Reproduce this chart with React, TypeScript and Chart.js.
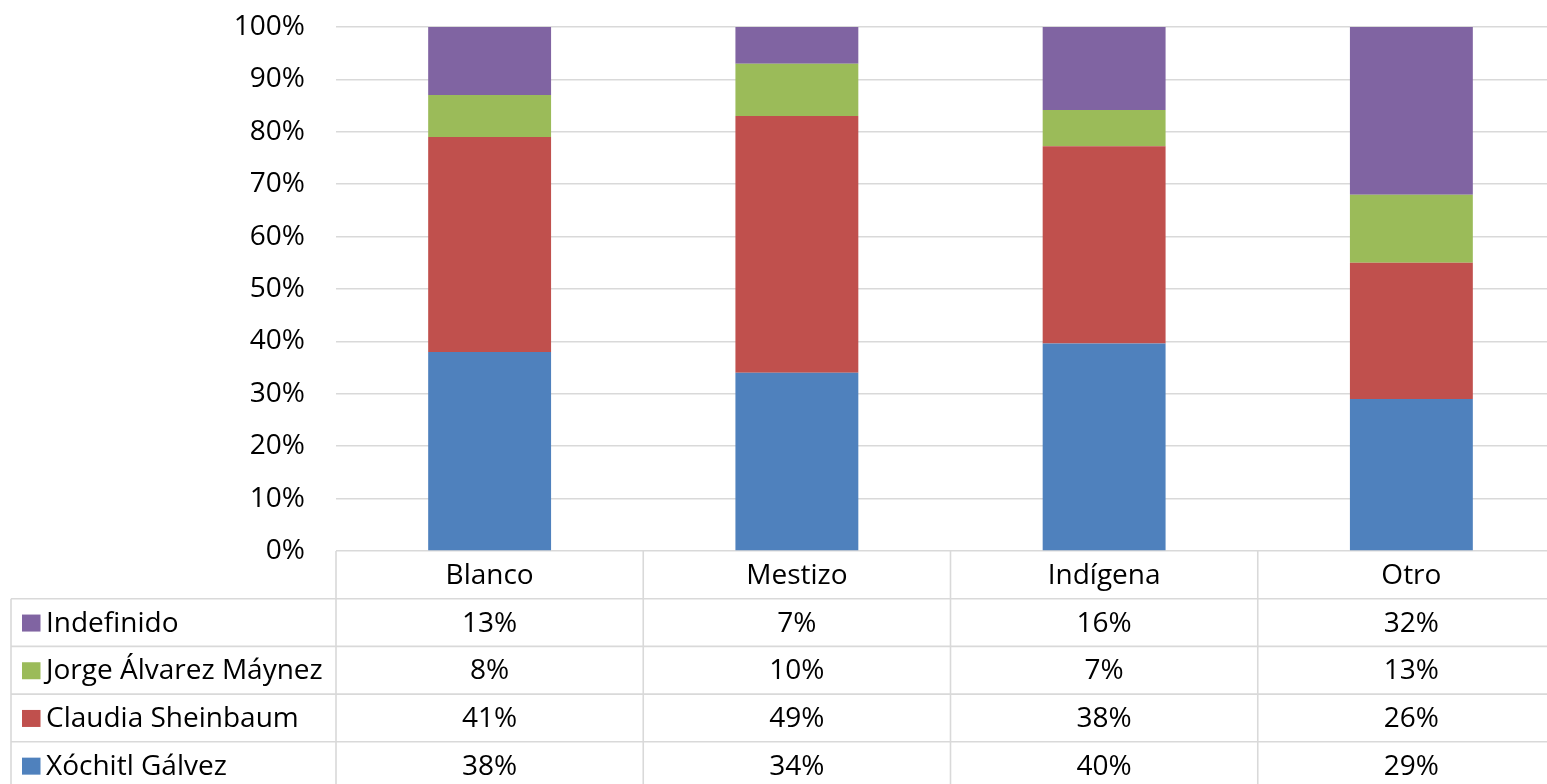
import React, { useEffect, useRef } from "react";
import { Chart, registerables } from "chart.js";

Chart.register(...registerables);

const categories = ["Blanco", "Mestizo", "Indígena", "Otro"];
const seriesNames = ["Xóchitl Gálvez", "Claudia Sheinbaum", "Jorge Álvarez Máynez", "Indefinido"];
const xochitl = [38, 34, 40, 29];
const claudia = [41, 49, 38, 26];
const jorge = [8, 10, 7, 13];
const indefinido = [13, 7, 16, 32];
const seriesColors = ["#4F81BD", "#C0504D", "#9BBB59", "#8064A2"];
const yTickStep = 10;

const FONT_FAMILY = "'Open Sans', sans-serif";
const FONT_SIZE = 28;

const seriesValues = [xochitl, claudia, jorge, indefinido];
const totals = categories.map((_, i) => seriesValues.reduce((s, arr) => s + arr[i], 0));

const tablePlugin = {
  id: "dataTable",
  afterDraw(chart: any) {
    const { ctx, chartArea, scales } = chart;
    const x = scales.x;
    const top = chartArea.bottom;
    const rowH = 47.7;
    const colW = x.getPixelForValue(1) - x.getPixelForValue(0);
    const left0 = x.getPixelForValue(0) - colW / 2;
    const tableLeft = 11;
    const right = left0 + colW * categories.length;
    const bottom = top + rowH * 5;
    ctx.save();
    ctx.strokeStyle = "#d9d9d9";
    ctx.lineWidth = 1.6;
    for (let r = 1; r <= 5; r++) {
      const y = top + r * rowH;
      ctx.beginPath();
      ctx.moveTo(tableLeft, y);
      ctx.lineTo(right, y);
      ctx.stroke();
    }
    for (let i = 0; i <= categories.length; i++) {
      const xx = left0 + i * colW;
      ctx.beginPath();
      ctx.moveTo(xx, top);
      ctx.lineTo(xx, bottom);
      ctx.stroke();
    }
    ctx.beginPath();
    ctx.moveTo(tableLeft, top + rowH);
    ctx.lineTo(tableLeft, bottom);
    ctx.stroke();

    ctx.fillStyle = "#000";
    ctx.font = `${FONT_SIZE}px ${FONT_FAMILY}`;
    ctx.textBaseline = "middle";
    ctx.textAlign = "center";
    categories.forEach((c, i) => {
      ctx.fillText(c, x.getPixelForValue(i), top + rowH / 2 + 1);
    });
    for (let r = 0; r < 4; r++) {
      const s = 3 - r;
      const cy = top + rowH * (r + 1) + rowH / 2 + 1;
      ctx.fillStyle = seriesColors[s];
      ctx.fillRect(22, cy - 9, 18.5, 17);
      ctx.fillStyle = "#000";
      ctx.textAlign = "left";
      ctx.fillText(seriesNames[s], 46, cy);
      ctx.textAlign = "center";
      seriesValues[s].forEach((v, i) => {
        ctx.fillText(`${v}%`, x.getPixelForValue(i), cy);
      });
    }
    ctx.restore();
  },
};

export default function App() {
  const ref = useRef<HTMLCanvasElement | null>(null);
  useEffect(() => {
    if (!ref.current) return;
    const chart = new Chart(ref.current, {
      type: "bar",
      data: {
        labels: categories,
        datasets: seriesNames.map((name, s) => ({
          label: name,
          data: seriesValues[s].map((v, i) => (v / totals[i]) * 100),
          backgroundColor: seriesColors[s],
          borderWidth: 0,
          categoryPercentage: 0.4,
          barPercentage: 1.0,
        })),
      },
      options: {
        responsive: false,
        animation: false,
        devicePixelRatio: 1,
        layout: { padding: { top: 27, right: 1, bottom: 233, left: 0 } },
        plugins: { legend: { display: false }, tooltip: { enabled: false } },
        scales: {
          x: { stacked: true, display: false },
          y: {
            stacked: true,
            min: 0,
            max: 100,
            afterFit: (s: any) => {
              s.width = 336;
              s.paddingTop = 0;
              s.paddingBottom = 0;
            },
            ticks: {
              stepSize: yTickStep,
              padding: 31,
              color: "#000",
              font: { family: FONT_FAMILY, size: FONT_SIZE },
              callback: (v: any) => `${v}%`,
            },
            grid: { color: "#d9d9d9", lineWidth: 1.6, drawTicks: false },
            border: { display: false },
          },
        },
      },
      plugins: [tablePlugin],
    });
    return () => chart.destroy();
  }, []);
  return (
    <div
      style={{
        position: "fixed",
        left: 0,
        top: 0,
        width: 1547,
        height: 784,
        overflow: "hidden",
        background: "#fff",
      }}
    >
      <canvas ref={ref} width={1566} height={784} style={{ display: "block" }} />
    </div>
  );
}
